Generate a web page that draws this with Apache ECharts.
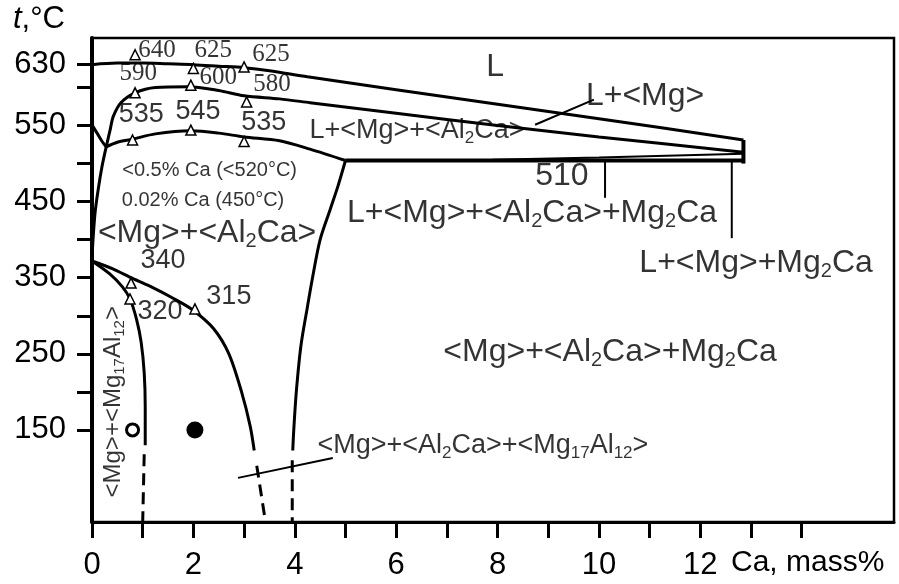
<!DOCTYPE html>
<html><head><meta charset="utf-8">
<script src="https://cdn.jsdelivr.net/npm/echarts@6/dist/echarts.min.js"></script>
<style>html,body{margin:0;padding:0;background:#fff}#c{width:899px;height:584px}</style>
</head><body><div id="c"></div>
<script>
// ---- axes ----
const xTicks = [0,1,2,3,4,5,6,7,8,9,10,11,12,13,14];
const xLabels = [0,2,4,6,8,10,12];
const yTicks = [150,200,250,300,350,400,450,500,550,600,630];
const yLabels = [150,250,350,450,550,630];

// ---- phase boundaries [Ca mass%, t °C] ----
const liquidus = [[0,630],[0.5,632],[1.0,632],[1.5,631],[2.0,630],[2.5,628],[3.0,626],[3.5,622],[4.25,614],[6,597],[8,578],[10,559],[12.85,531]];
const lMgLower = [[0.28,522],[0.36,545],[0.42,562],[0.57,580],[0.85,593],[1.25,600],[1.9,601],[2.5,596],[3.0,589],[3.7,585],[4.3,580],[6,566],[8,550],[10,535],[12.85,515]];
const ternaryLower = [[0.28,522],[0.5,528],[0.8,532],[1.25,539],[1.95,543],[2.5,540],[3.0,535],[3.7,530],[4.3,519],[5.0,504]];
const eutectic510 = [[5.0,504],[12.85,504]];
const mg2caBoundary = [[7.9,505],[10,508],[12.85,513]];
const rightEdge = [[12.85,531],[12.85,500]];
const mgSolidus = [[0,551],[0.1,540],[0.2,529],[0.28,522]];
const mgSolvusHigh = [[0.28,522],[0.2,497],[0.12,465],[0.06,435],[0.02,400],[0,375]];
const al2caSolvus = [[0,372],[0.4,362],[0.8,349],[1.2,337],[1.6,323],[2.0,307],[2.4,283],[2.7,250],[2.95,200],[3.12,155],[3.2,123]];
const mg17Solvus = [[0,372],[0.35,355],[0.6,338],[0.75,322],[0.88,295],[0.97,265],[1.03,225],[1.05,180],[1.05,130]];
const mg2caSolvus = [[5.0,504],[4.85,470],[4.7,440],[4.5,400],[4.35,350],[4.25,312],[4.12,260],[4.03,200],[3.98,150],[3.96,123]];
const al2caDash = [[3.25,103],[3.42,30]];
const mg17Dash = [[1.03,118],[1.0,29]];
const mg2caDash = [[3.95,110],[3.95,29]];
const leaderLMg = [[8.74,551],[9.9,584]];
const leader510 = [[10.12,504],[10.12,455]];
const leaderLMgMg2Ca = [[12.62,504],[12.62,402]];
const leaderTernary = [[2.88,87],[4.75,113]];

// ---- experimental points ----
const triUpper = [[0.85,643],[2.0,625],[3.0,627]];
const triMiddle = [[0.85,593],[1.95,603],[3.05,581]];
const triLower = [[0.8,531],[1.95,544],[3.0,529]];
const triSolvus = [[0.77,343],[0.75,322],[2.03,309]];
const openSample = [[0.8,150]];
const filledSample = [[2.03,150]];

// ---- annotations [x, t, text] ----
const serifNumLabels = [[1.28,648,'640'],[2.39,648,'625'],[3.53,643,'625'],[0.91,618,'590'],[2.49,613,'600'],[3.55,604,'580']];
const sansNumLabels = [[0.97,564,'535'],[2.09,568,'545'],[3.39,554,'535'],[1.40,373,'340'],[1.34,306,'320'],[2.70,325,'315']];
const phaseLabels = [[7.95,627,'L'],[10.91,588,'L+<Mg>'],[8.68,435,'L+<Mg>+<Al_{2}Ca>+Mg_{2}Ca'],[13.1,369,'L+<Mg>+Mg_{2}Ca'],[2.27,409,'<Mg>+<Al_{2}Ca>'],[10.22,252,'<Mg>+<Al_{2}Ca>+Mg_{2}Ca'],[9.27,483,'510']];
const smallPhaseLabels = [[6.41,543,'L+<Mg>+<Al_{2}Ca>'],[7.71,129,'<Mg>+<Al_{2}Ca>+<Mg_{17}Al_{12}>']];
const noteLabels = [[2.32,491,'<0.5% Ca (<520°C)'],[2.19,451,'0.02% Ca (450°C)']];
const verticalLabels = [[0.43,187,'<Mg>+<Mg_{17}Al_{12}>']];

const SANS = '"Liberation Sans", Arial, Helvetica, sans-serif';
const SERIF = '"Liberation Serif", "Times New Roman", serif';
const toRich = s => s.replace(/_\{(\d+)\}/g, '{s|$1}');

function lineSeries(data, opt) {
  opt = opt || {};
  return {
    type: 'line', data: data, silent: true, showSymbol: false, symbol: 'none',
    smooth: opt.smooth || false, z: 3,
    lineStyle: { color: '#000', width: opt.width || 3, type: opt.type || 'solid' }
  };
}
function textSeries(data, fontSize, family, subSize, extra) {
  extra = extra || {};
  return {
    type: 'scatter', data: data, silent: true, symbol: 'circle', symbolSize: 1,
    itemStyle: { color: 'rgba(0,0,0,0)' }, z: 5,
    label: Object.assign({
      show: true, position: 'inside', color: '#000', fontSize: fontSize,
      fontFamily: family, lineHeight: Math.round(fontSize * 1.15),
      formatter: p => toRich(p.data[2]),
      rich: { s: { fontSize: subSize, lineHeight: Math.round(subSize * 0.7), verticalAlign: 'bottom', fontFamily: family, color: '#000' } }
    }, extra)
  };
}
function markerSeries(data, symbol, size, fill, border) {
  return {
    type: 'scatter', data: data, silent: true, symbol: symbol, symbolSize: size, z: 4,
    itemStyle: { color: fill, borderColor: '#000', borderWidth: border, opacity: 1 }
  };
}

const series = [
  lineSeries(liquidus, { smooth: 0.3 }),
  lineSeries(lMgLower, { smooth: 0.3 }),
  lineSeries(ternaryLower, { smooth: 0.3 }),
  lineSeries(eutectic510, { width: 4 }),
  lineSeries(mg2caBoundary, { width: 2 }),
  lineSeries(rightEdge, { width: 4 }),
  lineSeries(mgSolidus, { smooth: 0.3 }),
  lineSeries(mgSolvusHigh, { smooth: 0.3 }),
  lineSeries(al2caSolvus, { smooth: 0.3 }),
  lineSeries(mg17Solvus, { smooth: 0.3 }),
  lineSeries(mg2caSolvus, { smooth: 0.3 }),
  lineSeries(al2caDash, { type: [12, 7] }),
  lineSeries(mg17Dash, { type: [12, 7] }),
  lineSeries(mg2caDash, { type: [12, 7] }),
  lineSeries(leaderLMg, { width: 2 }),
  lineSeries(leader510, { width: 2 }),
  lineSeries(leaderLMgMg2Ca, { width: 2 }),
  lineSeries(leaderTernary, { width: 2 }),
  markerSeries(triUpper, 'triangle', 10, '#fff', 1.5),
  markerSeries(triMiddle, 'triangle', 10, '#fff', 1.5),
  markerSeries(triLower, 'triangle', 10, '#fff', 1.5),
  markerSeries(triSolvus, 'triangle', 10, '#fff', 1.5),
  markerSeries(openSample, 'circle', 12, '#fff', 3),
  markerSeries(filledSample, 'circle', 17, '#000', 0),
  textSeries(serifNumLabels, 25, SERIF, 16),
  textSeries(sansNumLabels, 27, SANS, 16),
  textSeries(phaseLabels, 32, SANS, 20),
  textSeries(smallPhaseLabels, 27, SANS, 17),
  textSeries(noteLabels, 20, SANS, 13),
  textSeries(verticalLabels, 24, SANS, 15, { rotate: 90 })
];

const chart = echarts.init(document.getElementById('c'), null, { renderer: 'canvas' });
chart.setOption({
  animation: false,
  backgroundColor: '#fff',
  grid: { left: 92, right: 5, top: 38, bottom: 62, show: true, borderColor: '#000', borderWidth: 2.5 },
  xAxis: {
    type: 'value', min: 0, max: 15.82,
    axisLine: { show: true, onZero: false, lineStyle: { color: '#000', width: 3 } },
    axisTick: { show: true, length: 16, inside: false, customValues: xTicks, lineStyle: { color: '#000', width: 3 } },
    axisLabel: { customValues: xLabels, fontSize: 31, color: '#000', fontFamily: SANS, margin: 28 },
    splitLine: { show: false }
  },
  yAxis: {
    type: 'value', min: 29, max: 665,
    axisLine: { show: true, onZero: false, lineStyle: { color: '#000', width: 4 } },
    axisTick: { show: true, length: 15, inside: false, customValues: yTicks, lineStyle: { color: '#000', width: 3 } },
    axisLabel: { customValues: yLabels, fontSize: 31, color: '#000', fontFamily: SANS, margin: 26 },
    splitLine: { show: false }
  },
  graphic: [
    { type: 'text', left: 13, top: 4, silent: true,
      style: { text: '{i|t},°C', fontSize: 31, fontFamily: SANS, fill: '#000',
        rich: { i: { fontStyle: 'italic', fontSize: 31, fontFamily: SANS } } } },
    { type: 'text', left: 731, top: 548, silent: true,
      style: { text: 'Ca, mass%', fontSize: 30, fontFamily: SANS, fill: '#000' } }
  ],
  series: series
});
</script></body></html>
